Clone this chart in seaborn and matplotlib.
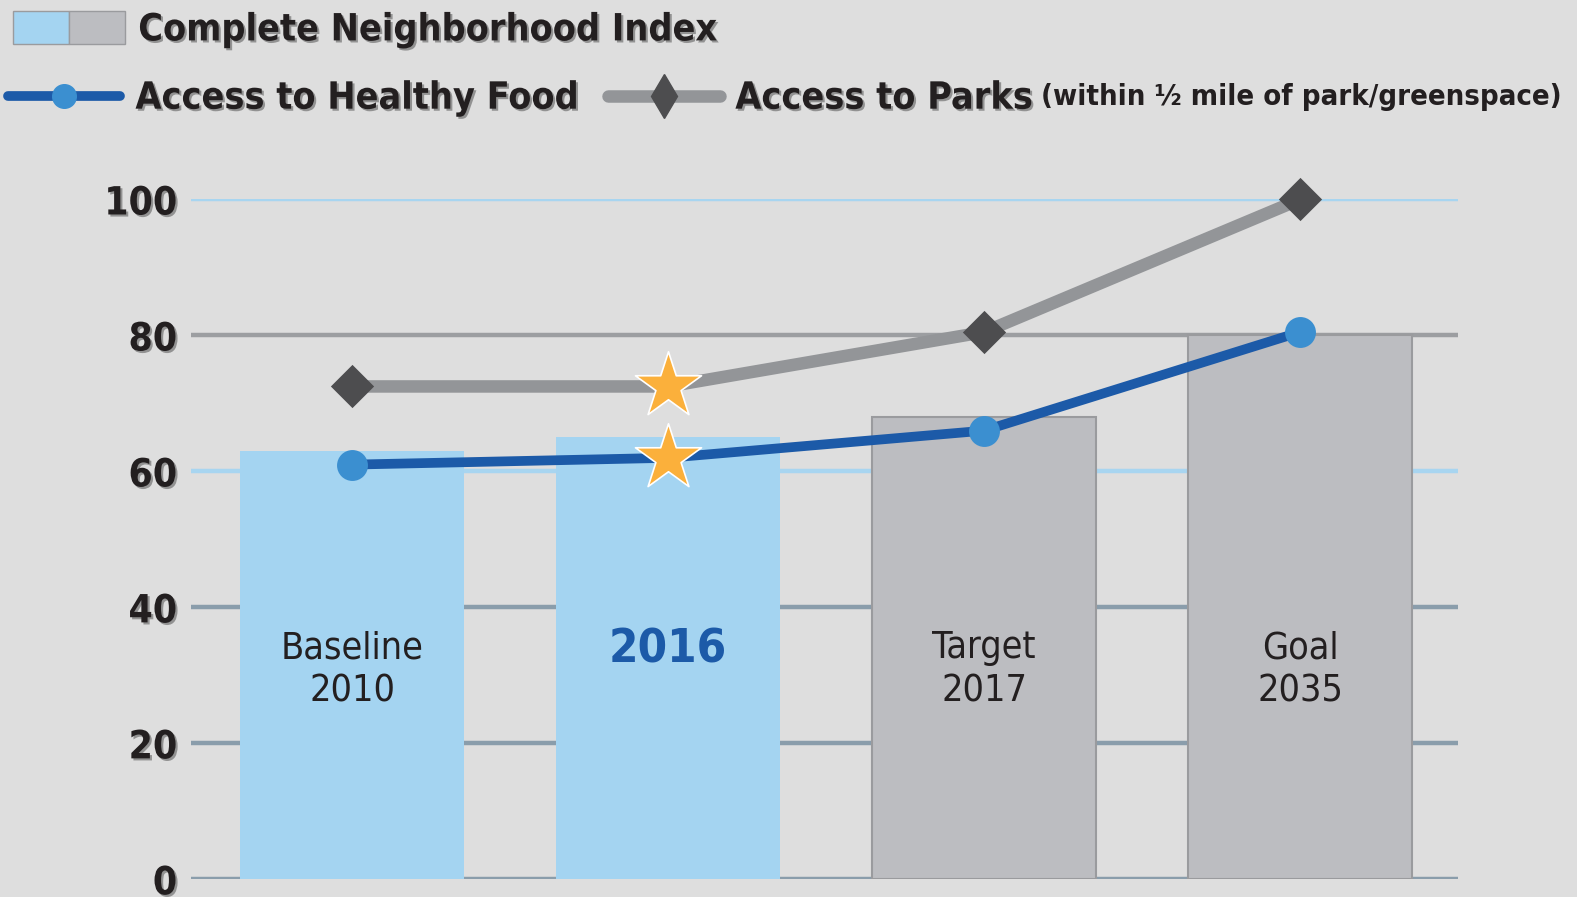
import numpy as np
import matplotlib
matplotlib.use("Agg")
import matplotlib.pyplot as plt
import matplotlib.patheffects as pe
from matplotlib.patches import Patch
from matplotlib.lines import Line2D
from matplotlib.legend_handler import HandlerTuple
import seaborn as sns

# data
periods = ["Baseline\n2010", "2016", "Target\n2017", "Goal\n2035"]
index_vals = [63, 65, 68, 80]          # Complete Neighborhood Index (bars)
food_vals = [61, 62, 66, 80.5]         # Access to Healthy Food
parks_vals = [72.5, 72.5, 80.5, 100]   # Access to Parks
star_idx = 1                           # current year (2016) gets the star
yticks = [0, 20, 40, 60, 80, 100]

# colours
bar_colors = ["#a4d4f1", "#a4d4f1", "#bcbdc1", "#bcbdc1"]
grid_colors = ["#8a9dab", "#8a9dab", "#8a9dab", "#a8d5f0", "#9c9ea1", "#a8d5f0"]
food_line = "#1c5aa8"
food_dot = "#3b8fd0"
parks_line = "#939598"
parks_dot = "#4d4d4f"
star_col = "#fbb03b"
ink = "#231f20"
bg = "#dedede"

# condensed face is the closest thing to the original's narrow type
plt.rcParams["font.family"] = ["DejaVu Sans"]
plt.rcParams["font.stretch"] = "condensed"
shadow = [pe.SimplePatchShadow(offset=(1.5, -1.5), shadow_rgbFace="#8a8a8a", alpha=0.9), pe.Normal()]

fig = plt.figure(figsize=(15.77, 8.97), dpi=100, facecolor=bg)
ax = fig.add_axes([0.1211, 0.0197, 0.8034, 0.7579])
ax.set_facecolor("none")

# grid lines, each with its own colour like the original
for v, c in zip(yticks, grid_colors):
    ax.axhline(v, color=c, lw=3.2, zorder=0)

# bars
sns.barplot(x=periods, y=index_vals, hue=periods, palette=bar_colors, legend=False,
            width=0.71, saturation=1, ax=ax, zorder=2)
for p, c in zip(ax.patches, bar_colors):
    if c == "#bcbdc1":
        p.set_edgecolor("#9a9b9e")
        p.set_linewidth(1.5)
    else:
        p.set_edgecolor("none")

keep = [i for i in range(len(periods)) if i != star_idx]

# lines
n0 = len(ax.lines)
sns.pointplot(x=periods, y=food_vals, color=food_line, markers="o", markersize=17,
              linewidth=7, ax=ax)
for ln in ax.lines[n0:]:
    ln.set_markerfacecolor(food_dot)
    ln.set_markeredgecolor(food_dot)
    ln.set_markevery(keep)
    ln.set_zorder(4)
n1 = len(ax.lines)
sns.pointplot(x=periods, y=parks_vals, color=parks_line, markers="D", markersize=15,
              linewidth=9, ax=ax)
for ln in ax.lines[n1:]:
    ln.set_markerfacecolor(parks_dot)
    ln.set_markeredgecolor(parks_dot)
    ln.set_markevery(keep)
    ln.set_zorder(3)
    ln.set_clip_on(False)

# stars on the current year
sns.scatterplot(x=[star_idx, star_idx], y=[food_vals[star_idx], parks_vals[star_idx]],
                marker="*", s=2500, color=star_col, edgecolor="white", linewidth=1.2,
                zorder=6, ax=ax, clip_on=False)

# labels inside the bars
for i, lab in enumerate(periods):
    if i == star_idx:
        ax.text(i, 33.7, lab, ha="center", va="center", fontsize=34, fontweight="bold",
                color=food_line)
    else:
        ax.text(i, 30.8, lab, ha="center", va="center", fontsize=27, color=ink,
                linespacing=1.25)

ax.set_xlim(-0.51, 3.5)
ax.set_ylim(0, 100)
ax.set_yticks(yticks)
ax.set_yticklabels([str(t) for t in yticks], fontsize=28, fontweight="bold", color=ink)
for t in ax.get_yticklabels():
    t.set_path_effects(shadow)
ax.tick_params(axis="y", length=0, pad=10)
ax.set_xticks([])
ax.set_xlabel("")
ax.set_ylabel("")
for s in ax.spines.values():
    s.set_visible(False)

# legend
prop = dict(weight="bold", size=27)
leg1 = fig.legend(handles=[(Patch(fc=bar_colors[0], ec="#9a9b9e"), Patch(fc=bar_colors[2], ec="#9a9b9e"))],
                  labels=["Complete Neighborhood Index"],
                  handler_map={tuple: HandlerTuple(ndivide=None, pad=0)},
                  loc="center left", bbox_to_anchor=(0.008, 0.967), frameon=False, prop=prop,
                  handlelength=3.0, handleheight=1.0, handletextpad=0.35, borderpad=0,
                  borderaxespad=0, labelcolor=ink)
h_food = Line2D([], [], color=food_line, lw=7, marker="o", markersize=17,
                markerfacecolor=food_dot, markeredgecolor=food_dot, solid_capstyle="round")
h_parks = Line2D([], [], color=parks_line, lw=9, marker="d", markersize=22,
                 markerfacecolor=parks_dot, markeredgecolor=parks_dot, solid_capstyle="round")
leg2 = fig.legend(handles=[h_food, h_parks], labels=["Access to Healthy Food", "Access to Parks"],
                  ncol=2, loc="center left", bbox_to_anchor=(0.005, 0.89), frameon=False,
                  prop=prop, handlelength=3.0, handletextpad=0.4, columnspacing=0.75,
                  borderpad=0, borderaxespad=0, labelcolor=ink)
for t in leg1.get_texts() + leg2.get_texts():
    t.set_path_effects(shadow)

fig.canvas.draw()
r = fig.canvas.get_renderer()
bb = leg2.get_texts()[1].get_window_extent(r).transformed(fig.transFigure.inverted())
fig.text(bb.x1 + 0.005, bb.y0 + 0.006, "(within \u00bd mile of park/greenspace)",
         fontsize=21, fontweight="bold", color=ink, va="bottom", ha="left")

fig.savefig("out.png", dpi=100, facecolor=bg)
